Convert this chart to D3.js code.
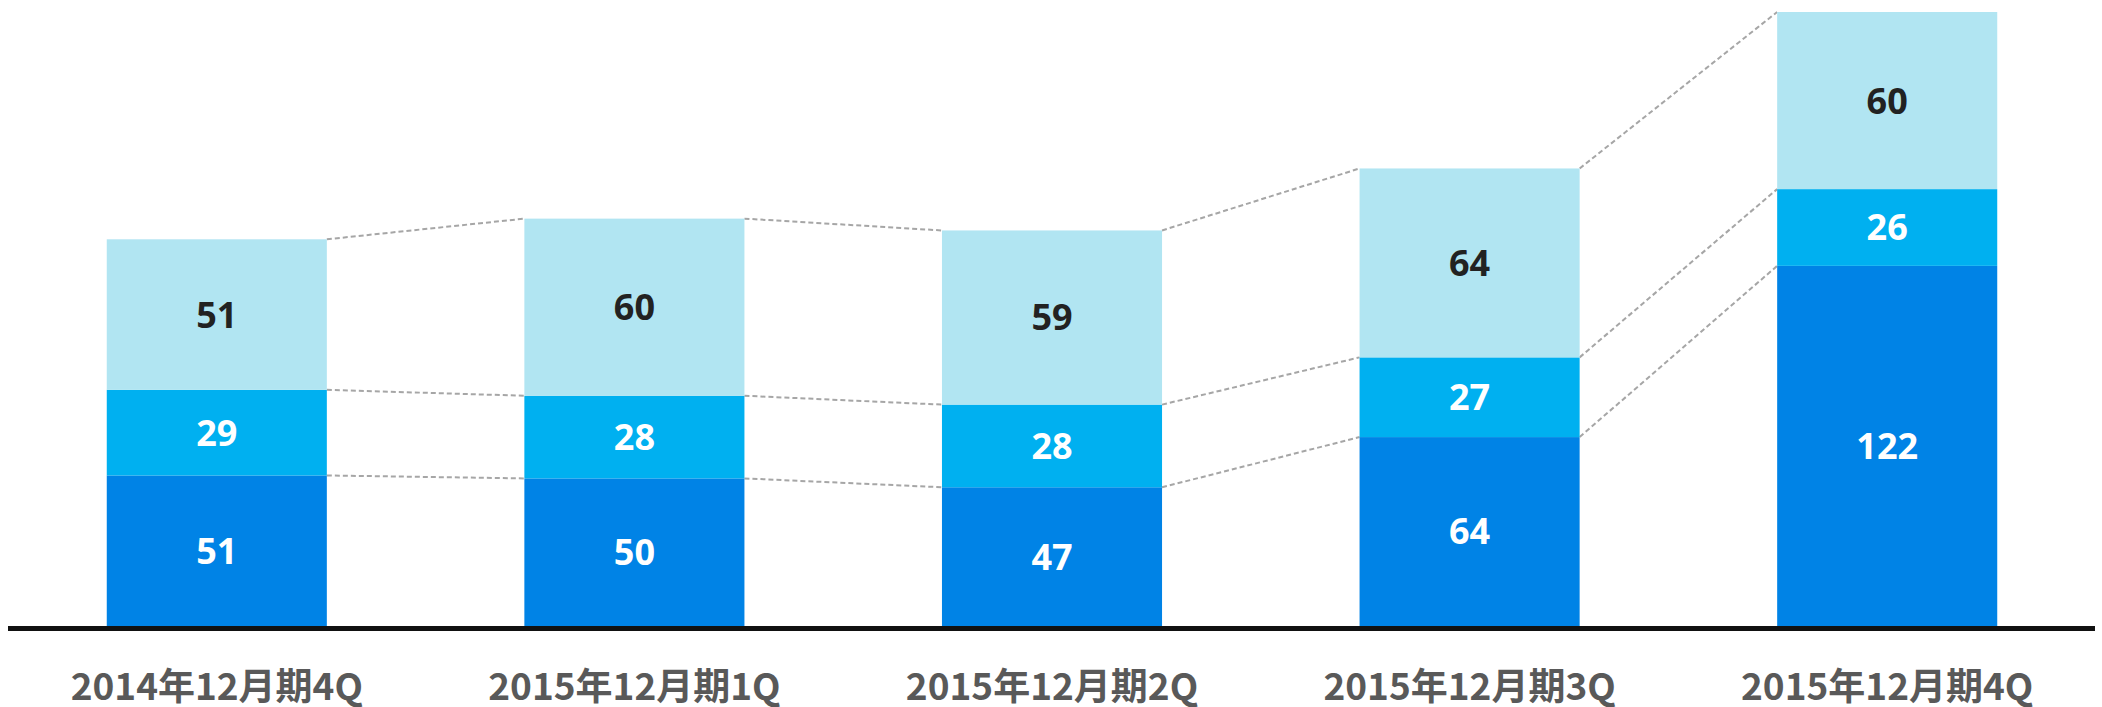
<!DOCTYPE html>
<html>
<head>
<meta charset="utf-8">
<script src="https://cdn.jsdelivr.net/npm/d3@7"></script>
<style>
html,body{margin:0;padding:0;background:#fff;}
svg{display:block;}
</style>
</head>
<body>
<svg id="chart" width="2102" height="707"></svg>
<script>
const categories = ["2014年12月期4Q","2015年12月期1Q","2015年12月期2Q","2015年12月期3Q","2015年12月期4Q"];
const seriesBottom = [51, 50, 47, 64, 122];
const seriesMiddle = [29, 28, 28, 27, 26];
const seriesTop = [51, 60, 59, 64, 60];
const seriesKeys = ["bottom","middle","top"];
const seriesColors = ["#0083E6","#00B0F0","#B1E5F2"];
const labelColors = ["#ffffff","#ffffff","#222222"];

const table = categories.map((c,i)=>({cat:c, bottom:seriesBottom[i], middle:seriesMiddle[i], top:seriesTop[i]}));

const svg = d3.select("#chart");
const x = d3.scaleBand().domain(categories).range([8, 2096]).paddingInner(0.473).paddingOuter(0.2365);
const y = d3.scaleLinear().domain([0, 208]).range([626, 12]);

const stack = d3.stack().keys(seriesKeys);
const stacked = stack(table);

// connectors
const conn = svg.append("g");
stacked.forEach((layer)=>{
  for(let i=0;i<layer.length-1;i++){
    conn.append("line")
      .attr("x1", x(categories[i]) + x.bandwidth())
      .attr("y1", y(layer[i][1]))
      .attr("x2", x(categories[i+1]))
      .attr("y2", y(layer[i+1][1]))
      .attr("stroke", "#a6a6a6")
      .attr("stroke-width", 2)
      .attr("stroke-dasharray", "5,3");
  }
});

// bars
stacked.forEach((layer, li)=>{
  const g = svg.append("g");
  g.selectAll("rect").data(layer).join("rect")
    .attr("x", d=>x(d.data.cat))
    .attr("width", x.bandwidth())
    .attr("y", d=>y(d[1]))
    .attr("height", d=>y(d[0])-y(d[1]))
    .attr("fill", seriesColors[li]);
  g.selectAll("text").data(layer).join("text")
    .attr("x", d=>x(d.data.cat)+x.bandwidth()/2)
    .attr("y", d=>(y(d[0])+y(d[1]))/2)
    .attr("dy", "0.36em")
    .attr("text-anchor","middle")
    .attr("font-family","'Noto Sans', sans-serif")
    .attr("font-weight","700")
    .attr("font-size","36px")
    .attr("fill", labelColors[li])
    .text(d=>d.data[seriesKeys[li]]);
});

// axis
const axis = d3.axisBottom(x).tickSize(0).tickPadding(0);
const ag = svg.append("g").attr("transform","translate(0,628.5)").call(axis);
ag.select(".domain").attr("stroke","#111").attr("stroke-width",5).attr("d","M8,0H2095");
ag.selectAll(".tick text")
  .attr("y", 0)
  .attr("dy", 0)
  .attr("transform","translate(0,71)")
  .attr("font-family","'Noto Sans CJK JP', sans-serif")
  .attr("font-weight","700")
  .attr("font-size","37px")
  .attr("fill","#595959");
</script>
</body>
</html>
